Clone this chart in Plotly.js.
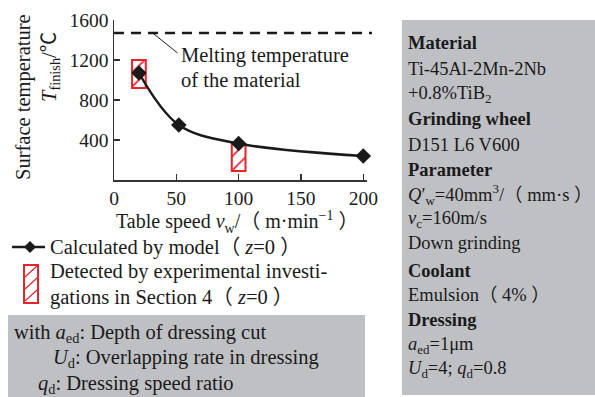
<!DOCTYPE html>
<html>
<head>
<meta charset="utf-8">
<script src="https://cdn.plot.ly/plotly-3.0.1.min.js"></script>
<style>
  html, body { margin: 0; padding: 0; background: #fff; }
  #chart { width: 595px; height: 397px; }
</style>
</head>
<body>
<div id="chart"></div>
<script>
// Surface temperature vs. table speed
const tableSpeed  = [20, 52, 100, 200];        // m/min, model points
const surfaceTemp = [1070, 550, 365, 240];     // °C, calculated by model
const expSpeed    = [20, 100];                 // m/min, experiments
const expLow      = [920, 90];                 // °C, lower bound detected
const expHigh     = [1200, 360];               // °C, upper bound detected
const meltingTemp = 1470;                      // °C
const xTickVals   = [0, 50, 100, 150, 200];
const yTickVals   = [400, 800, 1200, 1600];

const SERIF = '"Liberation Serif", "Times New Roman", "Noto Sans CJK SC", serif';
const RED = '#e8232b';
const INK = '#1a1a1a';
const BOX = '#bfc0c4';

// plot area in pixels: left 114, top 20, width 253, height 160
const L = 114, T = 20, W = 253, H = 160;
const px = x => (x - L) / W;
const py = y => (T + H - y) / H;

function label(text, x, y, size, extra) {
  return Object.assign({
    text: text, xref: 'paper', yref: 'paper', x: px(x), y: py(y),
    xanchor: 'left', yanchor: 'middle', showarrow: false,
    font: { family: SERIF, size: size, color: INK }
  }, extra || {});
}

const expTrace = {
  type: 'bar',
  x: expSpeed,
  base: expLow,
  y: expHigh.map((h, i) => h - expLow[i]),
  width: 11,
  marker: {
    color: 'white',
    line: { color: RED, width: 2 },
    pattern: { shape: '/', fgcolor: RED, bgcolor: 'white', size: 10, solidity: 0.18 }
  },
  showlegend: false,
  hoverinfo: 'skip'
};

const modelTrace = {
  type: 'scatter',
  mode: 'lines+markers',
  x: tableSpeed,
  y: surfaceTemp,
  line: { color: INK, width: 2.5, shape: 'spline', smoothing: 1 },
  marker: { symbol: 'diamond', size: 12, color: INK },
  showlegend: false,
  cliponaxis: false
};

const annotations = [
  // y axis title (two rotated lines)
  label('Surface temperature', 23, 97, 20.5, { textangle: -90, xanchor: 'center' }),
  label('<i>T</i><sub>finish</sub>/℃', 50, 67, 20.5, { textangle: -90, xanchor: 'center' }),
  // x axis title
  label('Table speed <i>v</i><sub>w</sub>/（ m·min<sup>−1</sup> ）', 237, 222, 20, { xanchor: 'center' }),
  // melting temperature note
  label('Melting temperature', 179, 55, 20.5),
  label('of the material', 179, 80, 20.5),
  // legend text
  label('Calculated by model（ <i>z</i>=0 ）', 48, 247, 20.5),
  label('Detected by experimental investi-', 48, 271, 20.5),
  label('gations in Section 4（ <i>z</i>=0 ）', 48, 297, 20.5),
  // symbol notes
  label('with <i>a</i><sub>ed</sub>: Depth of dressing cut', 12, 333, 20.5),
  label('<i>U</i><sub>d</sub>: Overlapping rate in dressing', 51, 358, 20.5),
  label('<i>q</i><sub>d</sub>: Dressing speed ratio', 36, 384, 20.5)
];

// process parameter panel
const panel = [
  ['<b>Material</b>', 43],
  ['Ti-45Al-2Mn-2Nb', 69],
  ['+0.8%TiB<sub>2</sub>', 94],
  ['<b>Grinding wheel</b>', 119],
  ['D151 L6 V600', 145],
  ['<b>Parameter</b>', 170],
  ['<i>Q</i>′<sub>w</sub>=40mm<sup>3</sup>/（ mm·s ）', 194],
  ['<i>v</i><sub>c</sub>=160m/s', 219],
  ['Down grinding', 243],
  ['<b>Coolant</b>', 271],
  ['Emulsion（ 4% ）', 295],
  ['<b>Dressing</b>', 320],
  ['<i>a</i><sub>ed</sub>=1μm', 345],
  ['<i>U</i><sub>d</sub>=4; <i>q</i><sub>d</sub>=0.8', 369]
];
panel.forEach(([t, y]) => annotations.push(label(t, 406, y, 18.5)));

const shapes = [
  // grey boxes
  { type: 'rect', xref: 'paper', yref: 'paper', x0: px(402), x1: px(595), y0: py(395), y1: py(20),
    fillcolor: BOX, line: { width: 0 }, layer: 'below' },
  { type: 'rect', xref: 'paper', yref: 'paper', x0: px(8), x1: px(365), y0: py(397), y1: py(315),
    fillcolor: BOX, line: { width: 0 }, layer: 'below' },
  // melting temperature line
  { type: 'line', xref: 'paper', yref: 'y', x0: 0, x1: px(372), y0: meltingTemp, y1: meltingTemp,
    line: { color: INK, width: 2.5, dash: '10px,7px' } },
  // leader line to the note
  { type: 'line', xref: 'x', yref: 'y', x0: 31, y0: meltingTemp, x1: 51, y1: 1270,
    line: { color: INK, width: 1 } },
  // legend: model line with diamond
  { type: 'line', xref: 'paper', yref: 'paper', x0: px(12), x1: px(45), y0: py(247), y1: py(247),
    line: { color: INK, width: 2.5 } },
  { type: 'path', xref: 'paper', yref: 'paper',
    path: `M ${px(30)} ${py(241)} L ${px(36)} ${py(247)} L ${px(30)} ${py(253)} L ${px(24)} ${py(247)} Z`,
    fillcolor: INK, line: { color: INK, width: 0 } },
  // legend: hatched experimental box
  { type: 'rect', xref: 'paper', yref: 'paper', x0: px(24), x1: px(38), y0: py(303), y1: py(265),
    fillcolor: 'white', line: { color: RED, width: 2 } },
  { type: 'path', xref: 'paper', yref: 'paper',
    path: `M ${px(25)} ${py(277)} L ${px(37)} ${py(266)} M ${px(25)} ${py(289)} L ${px(37)} ${py(278)} M ${px(25)} ${py(301)} L ${px(37)} ${py(290)}`,
    line: { color: RED, width: 1.2 } }
];

const layout = {
  width: 595, height: 397,
  margin: { l: L, r: 595 - L - W, t: T, b: 397 - T - H, pad: 0 },
  paper_bgcolor: 'white', plot_bgcolor: 'white',
  showlegend: false,
  font: { family: SERIF, color: INK },
  xaxis: {
    range: [0, 203], tickvals: xTickVals, ticks: 'inside', ticklen: 6, tickwidth: 1.5,
    tickcolor: '#333', showline: true, linecolor: '#333', linewidth: 1.5,
    showgrid: false, zeroline: false, tickfont: { family: SERIF, size: 19.5, color: INK },
    fixedrange: true
  },
  yaxis: {
    range: [0, 1600], tickvals: yTickVals, ticks: 'inside', ticklen: 6, tickwidth: 1.5,
    tickcolor: '#333', showline: true, linecolor: '#333', linewidth: 1.5,
    showgrid: false, zeroline: false, tickfont: { family: SERIF, size: 19.5, color: INK },
    fixedrange: true
  },
  annotations: annotations,
  shapes: shapes
};

Plotly.newPlot('chart', [expTrace, modelTrace], layout, { displayModeBar: false, staticPlot: true });
</script>
</body>
</html>
